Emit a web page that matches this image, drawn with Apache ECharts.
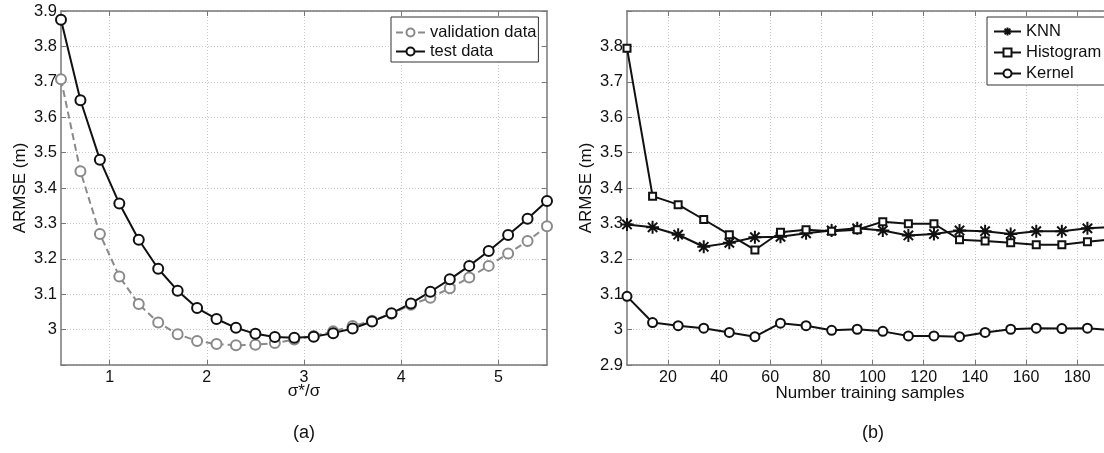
<!DOCTYPE html>
<html>
<head>
<meta charset="utf-8">
<script src="https://cdn.jsdelivr.net/npm/echarts@6/dist/echarts.min.js"></script>
<style>
  html, body { margin: 0; padding: 0; overflow: hidden; background: #fff; }
  /* a bit wider than the window: the right plot is cut at the edge in the original */
  #chart { width: 1130px; height: 453px; }
</style>
</head>
<body>
<div id="chart"></div>
<script>
// (a) ARMSE vs sigma ratio
const sigmaRatio = [0.5, 0.7, 0.9, 1.1, 1.3, 1.5, 1.7, 1.9, 2.1, 2.3, 2.5, 2.7, 2.9, 3.1, 3.3, 3.5, 3.7, 3.9, 4.1, 4.3, 4.5, 4.7, 4.9, 5.1, 5.3, 5.5]
const validationData = [3.707, 3.447, 3.27, 3.15, 3.072, 3.02, 2.987, 2.968, 2.959, 2.956, 2.957, 2.962, 2.972, 2.982, 2.995, 3.01, 3.025, 3.045, 3.07, 3.09, 3.117, 3.147, 3.18, 3.215, 3.25, 3.292]
const testData = [3.875, 3.648, 3.48, 3.356, 3.254, 3.172, 3.11, 3.061, 3.03, 3.005, 2.988, 2.979, 2.977, 2.98, 2.99, 3.003, 3.023, 3.046, 3.074, 3.107, 3.142, 3.18, 3.222, 3.267, 3.313, 3.363]
const sigmaTicks = [1, 2, 3, 4, 5]

// (b) ARMSE vs number of training samples
const samples = [4, 14, 24, 34, 44, 54, 64, 74, 84, 94, 104, 114, 124, 134, 144, 154, 164, 174, 184, 194]
const knnData = [3.297, 3.289, 3.268, 3.234, 3.245, 3.261, 3.262, 3.272, 3.28, 3.286, 3.28, 3.266, 3.27, 3.28, 3.278, 3.27, 3.278, 3.278, 3.286, 3.29]
const histData = [3.795, 3.377, 3.353, 3.311, 3.268, 3.225, 3.275, 3.282, 3.278, 3.282, 3.305, 3.299, 3.299, 3.254, 3.25, 3.245, 3.24, 3.24, 3.248, 3.255]
const kernelData = [3.094, 3.02, 3.011, 3.004, 2.992, 2.98, 3.018, 3.011, 2.998, 3.001, 2.995, 2.982, 2.982, 2.98, 2.992, 3.001, 3.004, 3.003, 3.004, 2.998]
const sampleTicks = [20, 40, 60, 80, 100, 120, 140, 160, 180]

const FONT = 'Liberation Sans'
const frameColor = '#777'
const gridLine = { show: true, lineStyle: { color: '#c8c8c8', type: [1, 2], width: 1 } }
const star = 'path://M0 -5L0 5M-5 0L5 0M-3.6 -3.6L3.6 3.6M-3.6 3.6L3.6 -3.6'

const pairs = (xs, ys) => xs.map((x, i) => [x, ys[i]])
const fmtY = hide => v => (Math.abs(v - hide) < 0.01 ? '' : String(Math.round(v * 10) / 10))

// main axis with labels + a mirrored frame axis (MATLAB box with inward ticks)
function xAxes (gridIndex, min, max, ticks, name, nameGap) {
  return [{
    type: 'value', gridIndex, min, max, position: 'bottom',
    name, nameLocation: 'middle', nameGap, nameMoveOverlap: false,
    nameTextStyle: { fontFamily: FONT, fontSize: 17, color: '#111' },
    axisLine: { show: true, onZero: false, lineStyle: { color: frameColor, width: 1.5 } },
    axisTick: { show: true, inside: true, length: 5, customValues: ticks, lineStyle: { color: frameColor } },
    axisLabel: { customValues: ticks, fontFamily: FONT, fontSize: 16, color: '#111', margin: 5 },
    splitLine: gridLine
  }, {
    type: 'value', gridIndex, min, max, position: 'top',
    axisLine: { show: true, onZero: false, lineStyle: { color: frameColor, width: 1.5 } },
    axisTick: { show: true, inside: true, length: 5, customValues: ticks, lineStyle: { color: frameColor } },
    axisLabel: { show: false },
    splitLine: { show: false }
  }]
}

function yAxes (gridIndex, hideLabel) {
  return [{
    type: 'value', gridIndex, min: 2.9, max: 3.9, interval: 0.1, position: 'left',
    name: 'ARMSE (m)', nameLocation: 'middle', nameGap: 32, nameMoveOverlap: false,
    nameTextStyle: { fontFamily: FONT, fontSize: 17, color: '#111' },
    axisLine: { show: true, onZero: false, lineStyle: { color: frameColor, width: 1.5 } },
    axisTick: { show: true, inside: true, length: 5, lineStyle: { color: frameColor } },
    axisLabel: { formatter: fmtY(hideLabel), fontFamily: FONT, fontSize: 16.5, color: '#111', margin: 4 },
    splitLine: gridLine
  }, {
    type: 'value', gridIndex, min: 2.9, max: 3.9, interval: 0.1, position: 'right',
    axisLine: { show: true, onZero: false, lineStyle: { color: frameColor, width: 1.5 } },
    axisTick: { show: true, inside: true, length: 5, lineStyle: { color: frameColor } },
    axisLabel: { show: false },
    splitLine: { show: false }
  }]
}

const chart = echarts.init(document.getElementById('chart'))
chart.setOption({
  animation: false,
  backgroundColor: '#fff',
  textStyle: { fontFamily: FONT },
  grid: [
    { left: 61, top: 11, width: 486, height: 354 },
    { left: 627, top: 11, width: 486, height: 354 }
  ],
  xAxis: [
    ...xAxes(0, 0.5, 5.5, sigmaTicks, 'σ*/σ', 17.5),
    ...xAxes(1, 4, 194, sampleTicks, 'Number training samples', 20)
  ],
  yAxis: [
    ...yAxes(0, 2.9),
    ...yAxes(1, 3.9)
  ],
  legend: [{
    data: ['validation data', 'test data'],
    orient: 'vertical', left: 391, top: 17,
    backgroundColor: '#fff', borderColor: '#333', borderWidth: 1,
    padding: [7, 2, 2, 4], itemGap: 2, itemWidth: 29, itemHeight: 10,
    textStyle: { fontFamily: FONT, fontSize: 16.5, color: '#111' }
  }, {
    data: ['KNN', 'Histogram', 'Kernel'],
    orient: 'vertical', left: 987, top: 17,
    backgroundColor: '#fff', borderColor: '#333', borderWidth: 1,
    padding: [6, 4, 3, 6], itemGap: 4, itemWidth: 27, itemHeight: 10,
    textStyle: { fontFamily: FONT, fontSize: 16.5, color: '#111' }
  }],
  graphic: [
    { type: 'text', x: 304, y: 433, style: { text: '(a)', font: '18px ' + FONT, fill: '#111', align: 'center', verticalAlign: 'middle' } },
    { type: 'text', x: 873, y: 433, style: { text: '(b)', font: '18px ' + FONT, fill: '#111', align: 'center', verticalAlign: 'middle' } }
  ],
  series: [
    {
      name: 'validation data', type: 'line', xAxisIndex: 0, yAxisIndex: 0,
      data: pairs(sigmaRatio, validationData),
      symbol: 'emptyCircle', symbolSize: 10,
      lineStyle: { color: '#8a8a8a', width: 2, type: [7, 4] },
      itemStyle: { color: '#8a8a8a', borderColor: '#8a8a8a', borderWidth: 2 }
    },
    {
      name: 'test data', type: 'line', xAxisIndex: 0, yAxisIndex: 0,
      data: pairs(sigmaRatio, testData),
      symbol: 'emptyCircle', symbolSize: 10,
      lineStyle: { color: '#111', width: 2 },
      itemStyle: { color: '#111', borderColor: '#111', borderWidth: 2 }
    },
    {
      name: 'KNN', type: 'line', xAxisIndex: 2, yAxisIndex: 2,
      data: pairs(samples, knnData),
      symbol: star, symbolSize: 13,
      lineStyle: { color: '#111', width: 2 },
      itemStyle: { color: '#111', borderColor: '#111', borderWidth: 2 }
    },
    {
      name: 'Histogram', type: 'line', xAxisIndex: 2, yAxisIndex: 2,
      data: pairs(samples, histData),
      symbol: 'emptyRect', symbolSize: 7,
      lineStyle: { color: '#111', width: 2 },
      itemStyle: { color: '#111', borderColor: '#111', borderWidth: 1.8 }
    },
    {
      name: 'Kernel', type: 'line', xAxisIndex: 2, yAxisIndex: 2,
      data: pairs(samples, kernelData),
      symbol: 'emptyCircle', symbolSize: 9,
      lineStyle: { color: '#111', width: 2 },
      itemStyle: { color: '#111', borderColor: '#111', borderWidth: 1.8 }
    }
  ]
})
</script>
</body>
</html>
